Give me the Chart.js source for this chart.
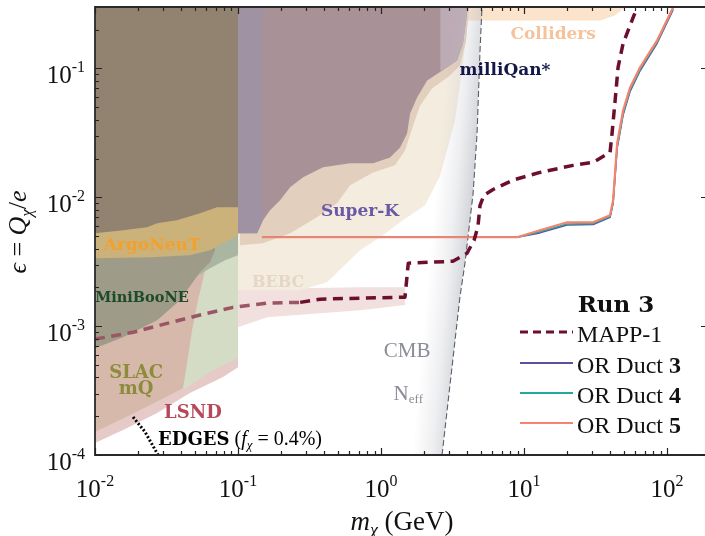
<!DOCTYPE html>
<html><head><meta charset="utf-8">
<script src="https://cdn.jsdelivr.net/npm/chart.js@4.4.1/dist/chart.umd.min.js"></script>
<style>html,body{margin:0;padding:0;background:#fff;overflow:hidden}#wrap{width:705px;height:536px;position:relative}</style>
</head><body><div id="wrap"><canvas id="c"></canvas></div>
<script>
// ---------- axes / ticks ----------
const xRange = [0.01, 184];
const yRange = [1e-4, 0.3];
const xMajorTicks = [0.01, 0.1, 1, 10, 100];
const xTickExp = ['-2', '-1', '0', '1', '2'];
const yMajorTicks = [1e-4, 1e-3, 1e-2, 1e-1];
const yTickExp = ['-4', '-3', '-2', '-1'];

// ---------- projection curves ----------
const mappX = [0.01, 0.0185, 0.0319, 0.0542, 0.0922, 0.160, 0.272, 0.374, 0.713, 1.47, 1.55, 3.18, 3.99, 4.47, 4.76, 4.92, 5.25, 6.07, 8.37, 12.9, 22.0, 30.4, 39.9, 41.2, 43.3, 45.4, 49.2, 57.8, 61.7];
const mappY = [7.93e-4, 8.97e-4, 1.05e-3, 1.22e-3, 1.40e-3, 1.51e-3, 1.53e-3, 1.62e-3, 1.65e-3, 1.68e-3, 3.08e-3, 3.19e-3, 3.68e-3, 4.64e-3, 5.96e-3, 8.67e-3, 1.04e-2, 1.15e-2, 1.36e-2, 1.56e-2, 1.77e-2, 1.87e-2, 2.23e-2, 3.13e-2, 5.65e-2, 0.102, 0.156, 0.248, 0.297];
const ductX  = [0.147, 8.93, 12.9, 20.0, 30.4, 39.9, 41.9, 44.7, 49.2, 55.1, 64.7, 85.1, 110];
const duct3Y = [4.9e-3, 4.9e-3, 5.3e-3, 6.1e-3, 6.15e-3, 7.0e-3, 9.0e-3, 0.024, 0.0435, 0.0665, 0.096, 0.157, 0.285];
const duct4Y = [4.9e-3, 4.9e-3, 5.4e-3, 6.2e-3, 6.25e-3, 7.1e-3, 9.2e-3, 0.0245, 0.0445, 0.068, 0.098, 0.160, 0.29];
const duct5Y = [4.9e-3, 4.9e-3, 5.55e-3, 6.4e-3, 6.4e-3, 7.25e-3, 9.48e-3, 0.0262, 0.0472, 0.0713, 0.102, 0.165, 0.297];

// ---------- existing bounds (lower edges of excluded regions) ----------
const colliderX = [0.01, 34, 43, 51];
const colliderY = [0.236, 0.236, 0.258, 0.3];
const lsndX = [0.01, 0.0157, 0.0272, 0.0461, 0.0785, 0.1];
const lsndY = [1.24e-4, 1.56e-4, 2.12e-4, 3.03e-4, 4.03e-4, 4.81e-4];
const bandX  = [0.1, 0.16, 0.713, 1.47];
const bandLo = [9.8e-4, 1.17e-3, 1.33e-3, 1.46e-3];
const bandHi = [1.95e-3, 1.95e-3, 2.0e-3, 2.0e-3];
const bebcX = [0.01, 0.103, 0.272, 0.419, 0.713, 0.984, 1.36, 2.03, 2.59, 3.29, 3.68, 3.99, 4.06];
const bebcY = [1.9e-3, 1.9e-3, 1.9e-3, 2.19e-3, 3.88e-3, 4.9e-3, 6.4e-3, 8.67e-3, 0.0148, 0.0395, 0.0964, 0.197, 0.3];
const greenX = [0.0412, 0.0637, 0.1];
const greenY = [3.19e-4, 4.4e-4, 5.65e-4];
const slacX = [0.01, 0.0176, 0.0285, 0.0412, 0.0433, 0.0477, 0.0525, 0.0588, 0.0691];
const slacY = [1.51e-4, 2.04e-4, 2.67e-4, 3.30e-4, 4.56e-4, 9.31e-4, 1.59e-3, 2.72e-3, 3.88e-3];
const tealX = [0.0461, 0.0637, 0.0811, 0.1];
const tealY = [2.27e-3, 2.82e-3, 3.25e-3, 3.55e-3];
const mbX = [0.01, 0.0157, 0.0272, 0.0374, 0.044, 0.0542, 0.0637, 0.0691];
const mbY = [6.75e-4, 8.22e-4, 1.11e-3, 1.51e-3, 1.9e-3, 2.62e-3, 3.13e-3, 3.88e-3];
const argoX = [0.01, 0.0243, 0.0461, 0.0637, 0.0811, 0.1];
const argoY = [3.37e-3, 3.42e-3, 3.55e-3, 3.88e-3, 4.48e-3, 5.07e-3];
const oliveX = [0.01, 0.0157, 0.0231, 0.0272, 0.0374, 0.0542, 0.0713, 0.1];
const oliveY = [5.26e-3, 5.55e-3, 5.85e-3, 6.29e-3, 6.63e-3, 7.51e-3, 8.36e-3, 8.36e-3];
const superkX = [0.1033, 0.1496, 0.2312, 0.356, 0.492, 0.607, 0.879, 1.253, 1.47, 1.675, 1.876, 2.27, 3.04, 3.56, 3.93, 4.12];
const superkY = [4.25e-3, 4.40e-3, 5.26e-3, 7.0e-3, 8.98e-3, 0.0124, 0.0156, 0.0177, 0.0231, 0.0361, 0.0516, 0.070, 0.0883, 0.1055, 0.165, 0.3];
const mauveX = [0.1, 0.1358, 0.1496, 0.1675, 0.1968, 0.2312, 0.285, 0.393, 0.607, 0.879, 1.156, 1.358, 1.521, 1.596, 1.786, 2.10, 2.90, 3.40, 3.74, 3.99, 4.06];
const mauveY = [5.26e-3, 5.26e-3, 6.63e-3, 7.92e-3, 9.48e-3, 0.01196, 0.0143, 0.0171, 0.01835, 0.01835, 0.0204, 0.0244, 0.0313, 0.0448, 0.0596, 0.0807, 0.102, 0.1153, 0.156, 0.267, 0.3];
const lavX = [2.59, 2.90, 3.40, 3.74, 3.99, 4.06];
const lavY = [0.095, 0.102, 0.1153, 0.156, 0.267, 0.3];
const stripX = [0.1, 0.1358, 0.149];
const stripY = [5.26e-3, 5.26e-3, 6.6e-3];
const cmbBandFrom = 1.6;
const cmbX = [2.67, 3.56, 3.86, 4.40, 4.69, 4.92, 5.08];
const cmbY = [1e-4, 1.68e-3, 3.08e-3, 1.07e-2, 3.13e-2, 0.138, 0.3];
const edgesX = [0.01845, 0.0224, 0.0276];
const edgesY = [1.97e-4, 1.51e-4, 1e-4];

const pts = (xs, ys) => xs.map((v, i) => ({x: v, y: ys[i]}));

const C = {
  mapp: '#6c0f2f', mappMuted: '#9a5664', d3: '#5b4fa0', d4: '#23a99b', d5: '#f7836e'
};

function region(xs, ys, color, fill) {
  return {data: pts(xs, ys), borderWidth: 0, backgroundColor: color, fill: fill || 'end', pointRadius: 0};
}
function curve(xs, ys, color, width, dash) {
  return {data: pts(xs, ys), borderColor: color, borderWidth: width, borderDash: dash || [], fill: false, pointRadius: 0};
}

const cmbFillData = [{x: cmbBandFrom, y: cmbY[0]}].concat(pts(cmbX, cmbY));

const datasets = [
  region(colliderX, colliderY, '#fbe3cc'),
  region(lsndX, lsndY, '#e6cac7'),
  region(bandX, bandLo, '#f2e0de', '+1'),
  {data: pts(bandX, bandHi), borderWidth: 0, fill: false, pointRadius: 0},
  region(bebcX, bebcY, '#f4ecdf'),
  region(greenX, greenY, '#d4dcc6'),
  region(slacX, slacY, '#d6b9aa'),
  region(tealX, tealY, '#aab5a2'),
  region(mbX, mbY, '#9e9c88'),
  region(argoX, argoY, '#cbb27a'),
  region(oliveX, oliveY, '#928370'),
  region(superkX, superkY, '#e2cfbd'),
  region(mauveX, mauveY, '#a89298'),
  region(lavX, lavY, '#bcaab4'),
  region(stripX, stripY, '#9e92a3'),
  {data: cmbFillData, borderWidth: 0, fill: 'end', pointRadius: 0,
   backgroundColor: (c) => {
     const ch = c.chart, a = ch.chartArea;
     if (!a) return 'rgba(0,0,0,0)';
     const xs = ch.scales.x, ys = ch.scales.y, n = cmbX.length - 1;
     const x0 = xs.getPixelForValue(cmbX[0]), y0 = ys.getPixelForValue(cmbY[0]);
     const x1 = xs.getPixelForValue(cmbX[n]), y1 = ys.getPixelForValue(cmbY[n]);
     const dx = x1 - x0, dy = y1 - y0, L = Math.hypot(dx, dy);
     const nx = dy / L, ny = -dx / L;
     const mx = (x0 + x1) / 2, my = (y0 + y1) / 2;
     const g = ch.ctx.createLinearGradient(mx + 30 * nx, my + 30 * ny, mx - 6 * nx, my - 6 * ny);
     g.addColorStop(0, 'rgba(190,192,200,0)');
     g.addColorStop(0.55, 'rgba(190,192,200,0.25)');
     g.addColorStop(1, 'rgba(185,187,195,0.6)');
     return g;
   }},
  curve(cmbX, cmbY, '#5a5e66', 1.1, [6, 3]),
  curve(edgesX, edgesY, '#000000', 3, [2, 2]),
  curve(ductX, duct3Y, C.d3, 1.6),
  curve(ductX, duct4Y, C.d4, 1.6),
  curve(ductX, duct5Y, C.d5, 2.2),
  Object.assign(curve(mappX, mappY, C.mapp, 3.5, [10, 6.5]), {
    segment: {borderColor: (s) => s.p1.parsed.x <= 0.28 ? C.mappMuted : undefined}
  })
];
datasets.forEach((d, i) => { d.order = 100 - i; });

const SERIF = '"Liberation Serif", "DejaVu Serif", serif';
const BSERIF = '"DejaVu Serif", "Liberation Serif", serif';

function rich(ctx, parts, x, y, align) {
  let w = 0;
  parts.forEach(p => { ctx.font = p[1]; w += ctx.measureText(p[0]).width; });
  let cx = align === 'center' ? x - w / 2 : align === 'right' ? x - w : x;
  parts.forEach(p => {
    ctx.font = p[1];
    if (p[3]) ctx.fillStyle = p[3];
    ctx.fillText(p[0], cx, y + (p[2] || 0));
    cx += ctx.measureText(p[0]).width;
  });
}

const annotations = [
  {x: 15.96, y: 0.168, color: '#f5c29c', parts: [['Colliders', 'bold 17px ' + BSERIF]]},
  {x: 7.36, y: 0.0883, color: '#15174a', parts: [['milliQan*', 'bold 17px ' + BSERIF]]},
  {x: 0.713, y: 7.13e-3, color: '#6a5aa6', parts: [['Super-K', 'bold 17px ' + BSERIF]]},
  {x: 0.0251, y: 3.88e-3, color: '#f2a12c', parts: [['ArgoNeuT', 'bold 17px ' + BSERIF]]},
  {x: 0.1905, y: 2.0e-3, color: '#e6d6c8', parts: [['BEBC', 'bold 16px ' + BSERIF]]},
  {x: 0.0213, y: 1.53e-3, color: '#1d4a2c', parts: [['MiniBooNE', 'bold 14.5px ' + BSERIF]]},
  {x: 0.0194, y: 3.95e-4, color: '#8c8c3c', parts: [['SLAC', 'bold 18px ' + BSERIF]]},
  {x: 0.0194, y: 2.97e-4, color: '#8c8c3c', parts: [['mQ', 'bold 18px ' + BSERIF]]},
  {x: 0.0484, y: 1.94e-4, color: '#b5485a', parts: [['LSND', 'bold 18px ' + BSERIF]]},
  {x: 1.52, y: 5.75e-4, color: '#8a8d96', parts: [['CMB', '21px ' + SERIF]]},
  {x: 1.55, y: 2.67e-4, color: '#8a8d96', parts: [['N', '21px ' + SERIF], ['eff', '13px ' + SERIF, 3]]},
  {x: 0.0276, y: 1.20e-4, color: '#000', align: 'left', parts: [['EDGES', 'bold 18px ' + BSERIF], [' (', '20px ' + SERIF], ['f', 'italic 20px ' + SERIF], ['χ', 'italic 13px ' + SERIF, 4], [' = 0.4%)', '20px ' + SERIF]]}
];

const deco = {
  id: 'deco',
  afterDatasetsDraw(chart) {
    const {ctx, chartArea: a, scales: {x, y}} = chart;
    ctx.save();
    ctx.textAlign = 'left';
    ctx.textBaseline = 'alphabetic';
    annotations.forEach(t => {
      ctx.fillStyle = t.color;
      rich(ctx, t.parts, x.getPixelForValue(t.x), y.getPixelForValue(t.y), t.align || 'center');
    });
    // frame
    ctx.strokeStyle = '#2a2a2a';
    ctx.lineWidth = 1.8;
    ctx.beginPath();
    ctx.moveTo(a.right + 2, a.top); ctx.lineTo(a.left, a.top); ctx.lineTo(a.left, a.bottom); ctx.lineTo(a.right + 2, a.bottom);
    ctx.stroke();
    // inward ticks
    ctx.lineWidth = 1.2;
    ctx.strokeStyle = '#222';
    ctx.beginPath();
    for (let e = -2; e <= 2; e++) for (let m = 1; m <= 9; m++) {
      const v = m * Math.pow(10, e);
      if (v < xRange[0] || v > xRange[1]) continue;
      const px = Math.round(x.getPixelForValue(v)) + 0.5, L = m === 1 ? 7 : 4;
      ctx.moveTo(px, a.bottom); ctx.lineTo(px, a.bottom - L);
      ctx.moveTo(px, a.top); ctx.lineTo(px, a.top + L);
    }
    for (let e = -4; e <= -1; e++) for (let m = 1; m <= 9; m++) {
      const v = m * Math.pow(10, e);
      if (v < yRange[0] || v > yRange[1]) continue;
      const py = Math.round(y.getPixelForValue(v)) + 0.5, L = m === 1 ? 7 : 4;
      ctx.moveTo(a.left, py); ctx.lineTo(a.left + L, py);
      if (m === 1) { ctx.moveTo(a.right, py); ctx.lineTo(a.right - 4, py); }
    }
    ctx.stroke();
    // tick labels
    ctx.fillStyle = '#111';
    xMajorTicks.forEach((v, i) => {
      rich(ctx, [['10', '25px ' + SERIF], [xTickExp[i], '16px ' + SERIF, -11]], x.getPixelForValue(v), 497, 'center');
    });
    yMajorTicks.forEach((v, i) => {
      const py = y.getPixelForValue(v);
      rich(ctx, [['10', '25px ' + SERIF], [yTickExp[i], '16px ' + SERIF, -11]], 85, py + 15, 'right');
    });
    // axis titles
    rich(ctx, [['m', 'italic 27px ' + SERIF], ['χ', 'italic 18px ' + SERIF, 6], [' (GeV)', '27px ' + SERIF]], 402, 530, 'center');
    ctx.save();
    ctx.translate(26, 232);
    ctx.rotate(-Math.PI / 2);
    rich(ctx, [['ϵ', 'italic 26px ' + SERIF], [' = ', '26px ' + SERIF], ['Q', 'italic 26px ' + SERIF], ['χ', 'italic 17px ' + SERIF, 6], ['/', '26px ' + SERIF], ['e', 'italic 26px ' + SERIF]], 0, 0, 'center');
    ctx.restore();
    // legend
    ctx.fillStyle = '#111';
    rich(ctx, [['Run 3', 'bold 23px ' + BSERIF]], 616, 312, 'center');
    const rows = [
      {parts: [['MAPP-1', '24px ' + SERIF]], color: C.mapp, w: 3, dash: [8, 5], base: 342},
      {parts: [['OR Duct ', '24px ' + SERIF], ['3', 'bold 24px ' + SERIF]], color: C.d3, w: 2, dash: [], base: 373},
      {parts: [['OR Duct ', '24px ' + SERIF], ['4', 'bold 24px ' + SERIF]], color: C.d4, w: 2, dash: [], base: 403},
      {parts: [['OR Duct ', '24px ' + SERIF], ['5', 'bold 24px ' + SERIF]], color: C.d5, w: 2, dash: [], base: 433}
    ];
    rows.forEach(r => {
      ctx.strokeStyle = r.color; ctx.lineWidth = r.w; ctx.setLineDash(r.dash);
      ctx.beginPath(); ctx.moveTo(520, r.base - 10); ctx.lineTo(573, r.base - 10); ctx.stroke();
      ctx.setLineDash([]);
      ctx.fillStyle = '#111';
      rich(ctx, r.parts, 577, r.base, 'left');
    });
    ctx.restore();
  }
};

new Chart(document.getElementById('c'), {
  type: 'line',
  data: {datasets},
  plugins: [deco],
  options: {
    responsive: true, maintainAspectRatio: false, animation: false,
    layout: {padding: {left: 0, right: 0, top: 7, bottom: 0}},
    plugins: {legend: {display: false}, tooltip: {enabled: false}, filler: {propagate: false}},
    elements: {point: {radius: 0}, line: {tension: 0, borderCapStyle: 'butt', borderJoinStyle: 'round'}},
    scales: {
      x: {type: 'logarithmic', min: xRange[0], max: xRange[1], grid: {display: false}, border: {display: false},
          ticks: {display: false}, afterFit: (s) => { s.height = 81; }},
      y: {type: 'logarithmic', min: yRange[0], max: yRange[1], grid: {display: false}, border: {display: false},
          ticks: {display: false}, afterFit: (s) => { s.width = 95; }}
    }
  }
});
</script>
</body></html>
